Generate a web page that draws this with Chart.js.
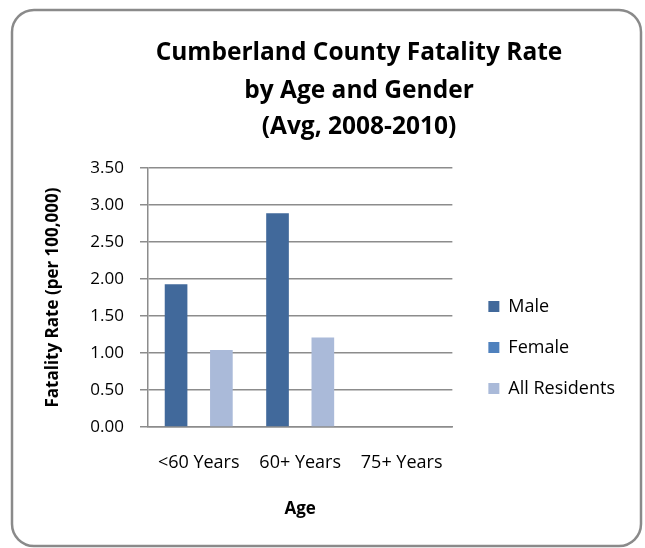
<!DOCTYPE html>
<html>
<head>
<meta charset="utf-8">
<script src="https://cdn.jsdelivr.net/npm/chart.js@4.4.1/dist/chart.umd.min.js"></script>
<style>
  html, body { margin: 0; padding: 0; background: #fff; }
  #wrap { width: 645px; height: 548px; }
</style>
</head>
<body>
<div id="wrap"><canvas id="fatality-chart"></canvas></div>
<script>
const CATEGORIES = ['<60 Years', '60+ Years', '75+ Years'];
const MALE = [1.93, 2.89, 0];
const FEMALE = [0, 0, 0];
const ALL_RESIDENTS = [1.04, 1.21, 0];
const TITLE_LINES = ['Cumberland County Fatality Rate', 'by Age and Gender', '(Avg, 2008-2010)'];
const Y_MIN = 0;
const Y_MAX = 3.5;
const Y_STEP = 0.5;

const FONT = '"Open Sans", Lato, sans-serif';
const GRID = '#8c8c8c';

// rounded frame + three-line title, drawn like the Excel original
const frameAndTitle = {
  id: 'frameAndTitle',
  beforeDraw(chart) {
    const ctx = chart.ctx;
    ctx.save();
    ctx.fillStyle = '#fff';
    ctx.fillRect(0, 0, chart.width, chart.height);
    ctx.strokeStyle = '#8a8a8a';
    ctx.lineWidth = 2.5;
    ctx.beginPath();
    ctx.roundRect(12, 10, 629, 536, 22);
    ctx.stroke();
    ctx.restore();
  },
  afterDraw(chart) {
    const ctx = chart.ctx;
    ctx.save();
    ctx.fillStyle = '#000';
    ctx.font = 'bold 24.5px ' + FONT;
    ctx.textAlign = 'center';
    ctx.textBaseline = 'middle';
    const ys = [53, 91, 127];
    TITLE_LINES.forEach((line, i) => ctx.fillText(line, 359, ys[i]));
    ctx.restore();
  },
};

new Chart(document.getElementById('fatality-chart'), {
  type: 'bar',
  data: {
    labels: CATEGORIES,
    datasets: [
      { label: 'Male', data: MALE, backgroundColor: '#41699b' },
      { label: 'Female', data: FEMALE, backgroundColor: '#4f81bd' },
      { label: 'All Residents', data: ALL_RESIDENTS, backgroundColor: '#aabad9' },
    ],
  },
  options: {
    responsive: true,
    maintainAspectRatio: false,
    animation: false,
    layout: {
      padding: { top: 168, bottom: 29, left: 0, right: 20 },
    },
    datasets: {
      bar: { categoryPercentage: 0.67, barPercentage: 1.0 },
    },
    plugins: {
      title: { display: false },
      tooltip: { enabled: false },
      legend: {
        position: 'right',
        align: 'center',
        maxWidth: 220,
        // blank title only nudges the items down a little
        title: { display: true, text: ' ', font: { size: 1 }, padding: { top: 0, bottom: 7 } },
        labels: {
          color: '#000',
          font: { family: FONT, size: 18 },
          boxWidth: 11,
          boxHeight: 11,
          padding: 23,
        },
      },
    },
    scales: {
      x: {
        grid: { display: false },
        border: { display: true, color: GRID, width: 1.5 },
        ticks: { color: '#000', font: { family: FONT, size: 18 }, padding: 17, maxRotation: 0 },
        title: {
          display: true,
          text: 'Age',
          color: '#000',
          font: { family: FONT, size: 17, weight: 'bold' },
          padding: { top: 10, bottom: 0 },
        },
        afterFit(scale) {
          scale.height = 92;
        },
      },
      y: {
        min: Y_MIN,
        max: Y_MAX,
        ticks: {
          stepSize: Y_STEP,
          color: '#000',
          font: { family: FONT, size: 17 },
          padding: 16,
          callback: (v) => Number(v).toFixed(2),
        },
        grid: { color: GRID, lineWidth: 1.5, tickLength: 8 },
        border: { display: true, color: GRID, width: 1.5 },
        title: {
          display: true,
          text: 'Fatality Rate (per 100,000)',
          color: '#000',
          font: { family: FONT, size: 17, weight: 'bold' },
          padding: { top: 43, bottom: 0 },
        },
        afterFit(scale) {
          scale.width = 148;
        },
      },
      // empty spacer between the plot and the legend
      gap: {
        type: 'linear',
        position: 'right',
        display: true,
        grid: { display: false },
        border: { display: false },
        ticks: { display: false },
        afterFit(scale) {
          scale.width = 13;
        },
      },
    },
  },
  plugins: [frameAndTitle],
});
</script>
</body>
</html>
